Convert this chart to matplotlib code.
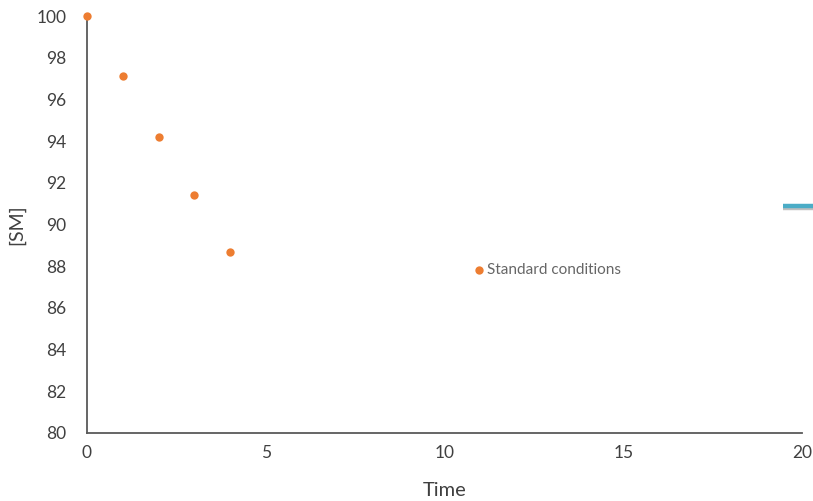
import matplotlib
matplotlib.use("Agg")
import matplotlib.pyplot as plt
import matplotlib.patheffects as pe

plt.rcParams['font.family'] = ['Lato', 'DejaVu Sans']

# Concentration of starting material over time
time = [0, 1, 2, 3, 4]
sm_conc = [100, 97.1, 94.2, 91.4, 88.7]

# Legend entry placement (data coords)
legend_x = [10.95]
legend_y = [87.8]
legend_label = "Standard conditions"

# Partial series entering from the right edge
edge_x = [19.45, 20.4]
edge_y = [90.9, 90.9]

xticks = [0, 5, 10, 15, 20]
yticks = [80, 82, 84, 86, 88, 90, 92, 94, 96, 98, 100]

orange = "#ED7D31"
fig = plt.figure(figsize=(8.13, 5.01), dpi=100)
ax = fig.add_axes([0.107, 0.136, 0.880, 0.832])

ax.scatter(time, sm_conc, s=36, color=orange, zorder=3, clip_on=False, linewidths=0)
ax.scatter(legend_x, legend_y, s=36, color=orange, zorder=3, linewidths=0)
ax.text(legend_x[0] + 0.22, legend_y[0], legend_label, fontsize=11, color="#666666",
        va="center", ha="left")

ax.plot(edge_x, edge_y, color="#4BACC6", lw=3.2, solid_capstyle="butt", clip_on=False,
        path_effects=[pe.SimpleLineShadow(offset=(0.5, -1.5), alpha=0.25), pe.Normal()])

ax.set_xlim(0, 20)
ax.set_ylim(80, 100)
ax.set_xticks(xticks)
ax.set_yticks(yticks)
ax.tick_params(length=0, labelsize=12.5, colors="#404040", pad=9)
ax.tick_params(axis='y', pad=15)

for side in ("top", "right"):
    ax.spines[side].set_visible(False)
for side in ("left", "bottom"):
    ax.spines[side].set_color("#595959")
    ax.spines[side].set_linewidth(1.3)

ax.set_xlabel("Time", fontsize=14.5, color="#404040", labelpad=15)
ax.set_ylabel("[SM]", fontsize=14, color="#404040", labelpad=8)

fig.savefig("out.png", dpi=100)
